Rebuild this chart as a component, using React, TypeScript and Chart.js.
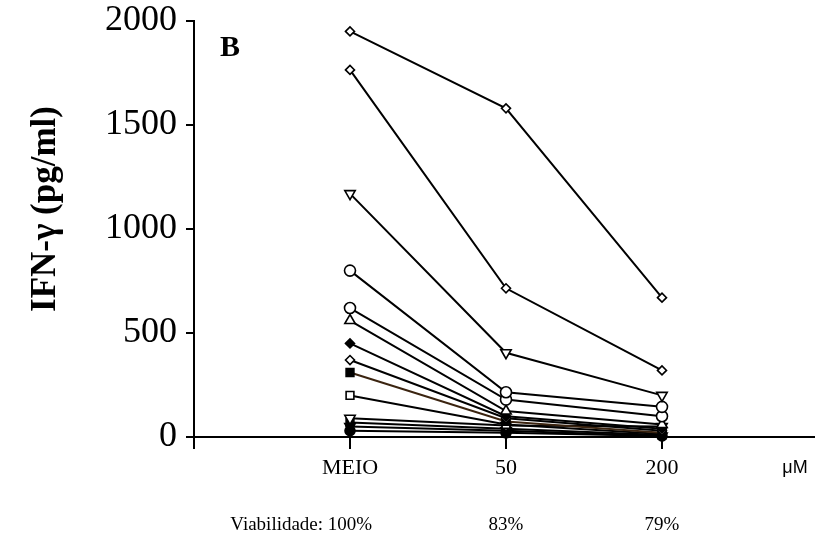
import { useEffect, useRef } from 'react';
import { Chart, registerables } from 'chart.js';
Chart.register(...registerables);

const categories = ['MEIO', '50', '200'];
const viability = ['100%', '83%', '79%'];
const yTickValues = [0, 500, 1000, 1500, 2000];
const yTitle = 'IFN-γ (pg/ml)';
const panelLabel = 'B';
const unitLabel = 'μM';
const viabilityLabel = 'Viabilidade: ';

const d1 = [1950, 1580, 670];
const d2 = [1765, 715, 320];
const d3 = [1170, 405, 200];
const d4 = [800, 215, 145];
const d5 = [620, 180, 100];
const d6 = [560, 125, 60];
const d7 = [450, 100, 40];
const d8 = [370, 90, 30];
const d9 = [310, 75, 20];
const d10 = [200, 60, 15];
const d11 = [90, 55, 50];
const d12 = [70, 40, 10];
const d13 = [50, 30, 5];
const d14 = [30, 20, 5];

const seriesList = [
  { data: d1, style: 'rectRot', fill: false, rot: 0, r: 4.5 },
  { data: d2, style: 'rectRot', fill: false, rot: 0, r: 4.5 },
  { data: d3, style: 'triangle', fill: false, rot: 180, r: 6 },
  { data: d4, style: 'circle', fill: false, rot: 0, r: 5.5 },
  { data: d5, style: 'circle', fill: false, rot: 0, r: 5.5 },
  { data: d6, style: 'triangle', fill: false, rot: 0, r: 6 },
  { data: d7, style: 'rectRot', fill: true, rot: 0, r: 4.5 },
  { data: d8, style: 'rectRot', fill: false, rot: 0, r: 4.5 },
  { data: d9, style: 'rect', fill: true, rot: 0, r: 5.5, line: '#3b2410' },
  { data: d10, style: 'rect', fill: false, rot: 0, r: 5.5 },
  { data: d11, style: 'triangle', fill: false, rot: 180, r: 6 },
  { data: d12, style: 'rect', fill: true, rot: 0, r: 5.5 },
  { data: d13, style: 'triangle', fill: true, rot: 180, r: 6 },
  { data: d14, style: 'circle', fill: true, rot: 0, r: 5 },
];

const textPlugin = {
  id: 'extraText',
  afterDraw(chart: any) {
    const ctx = chart.ctx;
    const xs = chart.scales.x;
    ctx.save();
    ctx.fillStyle = '#000';
    ctx.font = 'bold 30px "Liberation Serif"';
    ctx.textAlign = 'left';
    ctx.textBaseline = 'middle';
    ctx.fillText(panelLabel, 220, 48);
    ctx.save();
    ctx.translate(46, 209);
    ctx.rotate(-Math.PI / 2);
    ctx.font = 'bold 35px "Liberation Serif"';
    ctx.textAlign = 'center';
    ctx.textBaseline = 'middle';
    ctx.fillText(yTitle, 0, 0);
    ctx.restore();
    ctx.font = '18px "Liberation Sans"';
    ctx.textAlign = 'center';
    ctx.textBaseline = 'middle';
    ctx.fillText(unitLabel, 795, 468);
    ctx.font = '19px "Liberation Serif"';
    ctx.textBaseline = 'middle';
    viability.forEach((v, i) => {
      const px = xs.getPixelForValue(i + 1);
      ctx.textAlign = 'center';
      ctx.fillText(v, px, 525);
      if (i === 0) {
        const w = ctx.measureText(v).width;
        ctx.textAlign = 'right';
        ctx.fillText(viabilityLabel, px - w / 2, 525);
      }
    });
    ctx.restore();
  },
};

export default function App() {
  const ref = useRef<HTMLCanvasElement>(null);
  useEffect(() => {
    if (!ref.current) return;
    const datasets = seriesList.map((s) => ({
      data: categories.map((c, i) => ({ x: i + 1, y: s.data[i] })),
      borderColor: s.line || '#000',
      borderWidth: 2,
      pointStyle: s.style,
      pointRotation: s.rot,
      pointRadius: s.r,
      pointBorderWidth: 1.6,
      pointBorderColor: '#000',
      pointBackgroundColor: s.fill ? '#000' : '#fff',
      showLine: true,
      fill: false,
      tension: 0,
      clip: false,
    }));
    const chart = new Chart(ref.current, {
      type: 'scatter',
      data: { datasets },
      options: {
        animation: false,
        responsive: true,
        maintainAspectRatio: false,
        layout: { autoPadding: false, padding: { top: 21, right: 0, bottom: 0, left: 0 } },
        plugins: { legend: { display: false }, tooltip: { enabled: false } },
        scales: {
          x: {
            type: 'linear',
            min: 0,
            max: (815 - 194) / 156,
            afterBuildTicks: (axis: any) => {
              axis.ticks = [0, 1, 2, 3].map((v) => ({ value: v }));
            },
            afterFit: (s: any) => {
              s.height = 102;
              s.paddingLeft = 0;
              s.paddingRight = 0;
            },
            ticks: {
              autoSkip: false,
              maxRotation: 0,
              padding: 6,
              color: '#000',
              font: { family: 'Liberation Serif', size: 22 },
              callback: (v: any) => (v === 0 ? '' : categories[v - 1]),
            },
            grid: {
              display: true,
              drawOnChartArea: false,
              drawTicks: true,
              tickLength: 12,
              color: '#000',
              lineWidth: 2,
            },
            border: { display: true, color: '#000', width: 2 },
          },
          y: {
            min: 0,
            max: 2000,
            afterBuildTicks: (axis: any) => {
              axis.ticks = yTickValues.map((v) => ({ value: v }));
            },
            afterFit: (s: any) => {
              s.width = 194;
              s.paddingTop = 0;
              s.paddingBottom = 0;
            },
            ticks: {
              padding: 9,
              color: '#000',
              font: { family: 'Liberation Serif', size: 36 },
              callback: (v: any) => String(v),
            },
            grid: {
              display: true,
              drawOnChartArea: false,
              drawTicks: true,
              tickLength: 8,
              color: '#000',
              lineWidth: 2,
            },
            border: { display: true, color: '#000', width: 2 },
          },
        },
      },
      plugins: [textPlugin],
    } as any);
    return () => chart.destroy();
  }, []);
  return (
    <div style={{ position: 'absolute', left: 0, top: 0, width: 815, height: 539 }}>
      <canvas ref={ref} />
    </div>
  );
}
